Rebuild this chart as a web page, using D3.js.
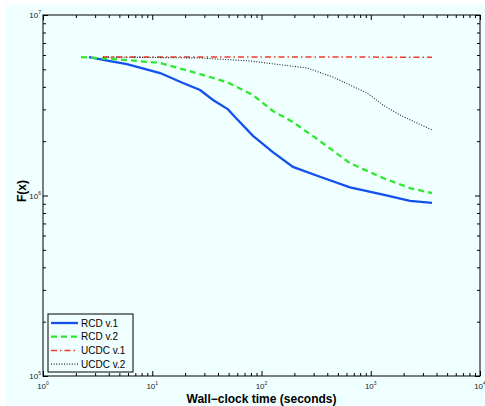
<!DOCTYPE html>
<html>
<head>
<meta charset="utf-8">
<style>
    body{margin:0;background:#fff;}
    text{font-family:"Liberation Sans",Arial,Helvetica,sans-serif;}
</style>
</head>
<body>
<script src="https://d3js.org/d3.v7.min.js"></script>
<script>
    // tick decades
    var xDecades=[1,10,100,1000,10000]
    var yDecades=[1e5,1e6,1e7]

    // series
    var rcd1Time=[2.64,4.1,5.87,11.8,19.1,27.4,36,49.4,57.2,83.6,127,194,343,646,1295,2287,3636]
    var rcd1F=[5.85e6,5.56e6,5.35e6,4.77e6,4.2e6,3.84e6,3.38e6,3.0e6,2.72e6,2.14e6,1.74e6,1.44e6,1.27e6,1.11e6,1.01e6,9.33e5,9.09e5]

    var rcd2Time=[2.23,5.87,11.8,23.6,48.3,83.6,127,194,322,646,1295,2287,3636]
    var rcd2F=[5.85e6,5.63e6,5.42e6,4.83e6,4.25e6,3.6e6,2.94e6,2.55e6,2.06e6,1.51e6,1.25e6,1.1e6,1.03e6]

    var ucdc1Time=[3.54,60,3636]
    var ucdc1F=[5.85e6,5.85e6,5.84e6]

    var ucdc2Time=[3.54,27.4,78.5,157,261,451,646,924,1295,1853,2650,3636]
    var ucdc2F=[5.85e6,5.78e6,5.56e6,5.28e6,5.09e6,4.53e6,4.09e6,3.7e6,3.17e6,2.79e6,2.52e6,2.31e6]

    var seriesNames=["RCD v.1","RCD v.2","UCDC v.1","UCDC v.2"]

    var width=485, height=406
    var pLeft=43, pRight=480, pTop=15, pBottom=376

    var svg=d3.select("body")
            .append("svg")
            .attr("width",width)
            .attr("height",height)

    // figure background
    svg.append("rect")
        .attr("x",6)
        .attr("y",4)
        .attr("width",width-6)
        .attr("height",height-4)
        .attr("fill","#f0ffff")

    var x=d3.scaleLog().domain([1,1e4]).range([pLeft,pRight])
    var y=d3.scaleLog().domain([1e5,1e7]).range([pBottom,pTop])

    // minor ticks 2..9 in each decade
    function minors(decs){
        var out=[]
        for(var i=0;i<decs.length-1;i++){
            for(var k=2;k<10;k++) out.push(decs[i]*k)
        }
        return out
    }
    var xMinor=minors(xDecades)
    var yMinor=minors(yDecades)

    var sides=[
        [d3.axisBottom,x,"translate(0,"+pBottom+")",xDecades,xMinor],
        [d3.axisTop,x,"translate(0,"+pTop+")",xDecades,xMinor],
        [d3.axisLeft,y,"translate("+pLeft+",0)",yDecades,yMinor],
        [d3.axisRight,y,"translate("+pRight+",0)",yDecades,yMinor]
    ]
    sides.forEach(function(s){
        [[s[3],-5],[s[4],-3]].forEach(function(t){
            var g=svg.append("g")
                .attr("transform",s[2])
                .call(s[0](s[1]).tickValues(t[0]).tickSizeInner(t[1]).tickSizeOuter(0).tickFormat(""))
            g.select(".domain").remove()
            g.selectAll("line").attr("stroke","#000").attr("stroke-width",1)
        })
    })

    // plot frame
    svg.append("rect")
        .attr("x",pLeft)
        .attr("y",pTop)
        .attr("width",pRight-pLeft)
        .attr("height",pBottom-pTop)
        .attr("fill","none")
        .attr("stroke","#000")
        .attr("stroke-width",1)

    // tick labels 10^n
    function powLabel(t,d){
        t.append("tspan").text("10")
        t.append("tspan").attr("dy",-4).attr("font-size",5).text(Math.round(Math.log10(d)))
    }

    svg.selectAll(".xlab")
        .data(xDecades)
        .enter()
        .append("text")
        .attr("x",function(d){return x(d)})
        .attr("y",pBottom+13)
        .attr("text-anchor","middle")
        .attr("font-size",8)
        .attr("fill","#222")
        .each(function(d){powLabel(d3.select(this),d)})

    svg.selectAll(".ylab")
        .data(yDecades)
        .enter()
        .append("text")
        .attr("x",pLeft-2)
        .attr("y",function(d){return y(d)+3})
        .attr("text-anchor","end")
        .attr("font-size",8)
        .attr("fill","#222")
        .each(function(d){powLabel(d3.select(this),d)})

    // axis titles
    svg.append("text")
        .attr("x",(pLeft+pRight)/2)
        .attr("y",403)
        .attr("text-anchor","middle")
        .attr("font-size",12)
        .attr("font-weight","bold")
        .text("Wall\u2212clock time (seconds)")

    svg.append("text")
        .attr("transform","translate(26,191) rotate(-90)")
        .attr("text-anchor","middle")
        .attr("font-size",12)
        .attr("font-weight","bold")
        .text("F(x)")

    var styles=[
        {color:"#1450ee",w:2.3,dash:null},
        {color:"#2ee82e",w:2.3,dash:"6,4"},
        {color:"#f03a28",w:1.5,dash:"6,3,1.5,3"},
        {color:"#222222",w:1.1,dash:"1,1.6"}
    ]
    var series=[
        [rcd1Time,rcd1F],
        [rcd2Time,rcd2F],
        [ucdc1Time,ucdc1F],
        [ucdc2Time,ucdc2F]
    ]

    var line=d3.line()
        .x(function(d){return x(d[0])})
        .y(function(d){return y(d[1])})

    series.forEach(function(s,i){
        svg.append("path")
            .attr("d",line(d3.zip(s[0],s[1])))
            .attr("fill","none")
            .attr("stroke",styles[i].color)
            .attr("stroke-width",styles[i].w)
            .attr("stroke-dasharray",styles[i].dash)
    })

    // legend
    var lg=svg.append("g").attr("transform","translate(48,314)")
    lg.append("rect")
        .attr("width",85)
        .attr("height",58)
        .attr("fill","#f0ffff")
        .attr("stroke","#000")
        .attr("stroke-width",1)

    seriesNames.forEach(function(name,i){
        var yy=9+i*13.7
        lg.append("line")
            .attr("x1",3)
            .attr("x2",30)
            .attr("y1",yy)
            .attr("y2",yy)
            .attr("stroke",styles[i].color)
            .attr("stroke-width",styles[i].w)
            .attr("stroke-dasharray",styles[i].dash)
        lg.append("text")
            .attr("x",33)
            .attr("y",yy+3.5)
            .attr("font-size",10)
            .attr("fill","#000")
            .text(name)
    })
</script>
</body>
</html>
